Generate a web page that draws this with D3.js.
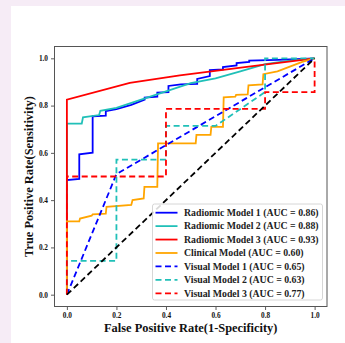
<!DOCTYPE html>
<html>
<head>
<meta charset="utf-8">
<script src="https://cdn.jsdelivr.net/npm/d3@7"></script>
<style>
  body { margin: 0; background: #f6ecf6; }
  svg text { font-family: "Liberation Serif", "Times New Roman", serif; font-weight: bold; }
</style>
</head>
<body>
<div id="chart"></div>
<script>
// ROC points, [fpr, tpr]
const radiomic1 = [[0,0],[0,0.485],[0.05,0.49],[0.05,0.594],[0.104,0.601],[0.104,0.755],[0.157,0.757],[0.157,0.777],
  [0.2,0.785],[0.26,0.803],[0.314,0.825],[0.314,0.834],[0.365,0.838],[0.365,0.855],[0.41,0.857],[0.41,0.883],
  [0.46,0.89],[0.526,0.892],[0.526,0.913],[0.577,0.925],[0.577,0.95],[0.63,0.953],[0.63,0.963],[0.685,0.97],
  [0.685,0.98],[0.736,0.985],[0.736,0.99],[0.85,0.993],[1,1]];
const radiomic2 = [[0,0],[0,0.724],[0.06,0.724],[0.065,0.75],[0.13,0.76],[0.135,0.778],[0.2,0.79],[0.3,0.825],
  [0.4,0.86],[0.5,0.895],[0.6,0.915],[0.7,0.945],[0.8,0.975],[0.9,0.99],[1,1]];
const radiomic3 = [[0,0],[0,0.825],[0.254,0.896],[0.456,0.928],[0.75,0.967],[1,1]];
const clinical = [[0,0],[0,0.31],[0.05,0.31],[0.053,0.322],[0.1,0.334],[0.104,0.34],[0.157,0.343],[0.16,0.372],
  [0.26,0.38],[0.265,0.4],[0.31,0.407],[0.313,0.456],[0.365,0.456],[0.368,0.64],[0.52,0.64],[0.523,0.676],
  [0.58,0.676],[0.583,0.71],[0.63,0.71],[0.633,0.835],[0.68,0.838],[0.683,0.845],[0.73,0.847],[0.733,0.886],
  [0.79,0.89],[0.793,0.933],[0.85,0.945],[0.9,0.965],[0.95,0.985],[1,1]];
const visual1 = [[0,0],[0.2,0.51],[1,1]];
const visual2 = [[0,0],[0,0.143],[0.2,0.143],[0.2,0.571],[0.4,0.571],[0.4,0.714],[0.6,0.714],[0.8,0.857],[0.8,1],[1,1]];
const visual3 = [[0,0],[0,0.5],[0.4,0.5],[0.4,0.786],[0.8,0.786],[0.8,0.857],[1,0.857],[1,1]];
const chance = [[0,0],[1,1]];

const labels = ["Radiomic Model 1 (AUC = 0.86)", "Radiomic Model 2 (AUC = 0.88)", "Radiomic Model 3 (AUC = 0.93)",
  "Clinical Model (AUC = 0.60)", "Visual Model 1 (AUC = 0.65)", "Visual Model 2 (AUC = 0.63)", "Visual Model 3 (AUC = 0.77)"];
const tickValues = [0, 0.2, 0.4, 0.6, 0.8, 1.0];

const series = [
  { pts: radiomic1, color: "#0000ff", dash: null },
  { pts: radiomic2, color: "#20c0b8", dash: null },
  { pts: radiomic3, color: "#ff0000", dash: null },
  { pts: clinical, color: "#ffa500", dash: null },
  { pts: visual1, color: "#0000ff", dash: "6,3.5" },
  { pts: visual2, color: "#20c0b8", dash: "6,3.5" },
  { pts: visual3, color: "#ff0000", dash: "6,3.5" }
];

const W = 345, H = 343;
const margin = { top: 46.5, right: 18, bottom: 36.5, left: 54.5 };
const width = W - margin.left - margin.right;
const height = H - margin.top - margin.bottom;

const svg = d3.select("#chart").append("svg")
  .attr("width", W)
  .attr("height", H);

svg.append("rect")
  .attr("x", 11).attr("y", 6)
  .attr("width", W - 11).attr("height", H - 6)
  .attr("fill", "#fff");

const g = svg.append("g")
  .attr("transform", "translate(" + margin.left + "," + margin.top + ")");

const x = d3.scaleLinear().domain([-0.05, 1.05]).range([0, width]);
const y = d3.scaleLinear().domain([-0.05, 1.05]).range([height, 0]);

const fmt = d3.format(".1f");

const xAxis = g.append("g")
  .attr("transform", "translate(0," + height + ")")
  .call(d3.axisBottom(x).tickValues(tickValues).tickFormat(fmt).tickSize(3.5).tickPadding(3));
const yAxis = g.append("g")
  .call(d3.axisLeft(y).tickValues(tickValues).tickFormat(fmt).tickSize(3.5).tickPadding(3));

[xAxis, yAxis].forEach(a => {
  a.select(".domain").remove();
  a.selectAll("line").attr("stroke", "#333").attr("stroke-width", 0.8);
  a.selectAll("text").style("font-size", "7.3px").attr("fill", "#111");
});

const line = d3.line().x(d => x(d[0])).y(d => y(d[1]));

// plot order as in the source: radiomic, clinical, visual, then chance line
series.forEach(s => {
  g.append("path")
    .datum(s.pts)
    .attr("d", line)
    .attr("fill", "none")
    .attr("stroke", s.color)
    .attr("stroke-width", 1.8)
    .attr("stroke-dasharray", s.dash);
});

g.append("path")
  .datum(chance)
  .attr("d", line)
  .attr("fill", "none")
  .attr("stroke", "#000")
  .attr("stroke-width", 1.8)
  .attr("stroke-dasharray", "6,3.5");

g.append("rect")
  .attr("width", width).attr("height", height)
  .attr("fill", "none")
  .attr("stroke", "#555")
  .attr("stroke-width", 1);

// legend
const lg = svg.append("g").attr("transform", "translate(152.5,204)");
lg.append("rect")
  .attr("width", 170).attr("height", 96)
  .attr("rx", 2)
  .attr("fill", "#fff")
  .attr("fill-opacity", 0.85)
  .attr("stroke", "#ccc")
  .attr("stroke-width", 0.8);

const items = lg.selectAll("g.item")
  .data(series)
  .enter().append("g")
  .attr("transform", (d, i) => "translate(0," + (8.7 + i * 13.43) + ")");
items.append("line")
  .attr("x1", 3).attr("x2", 25)
  .attr("stroke", d => d.color)
  .attr("stroke-width", 1.8)
  .attr("stroke-dasharray", d => d.dash);
items.append("text")
  .attr("x", 31.5).attr("dy", "0.33em")
  .style("font-size", "9.8px")
  .attr("fill", "#222")
  .text((d, i) => labels[i]);

svg.append("text")
  .attr("x", margin.left + x(0.5)).attr("y", 332)
  .attr("text-anchor", "middle")
  .style("font-size", "12.4px")
  .attr("fill", "#111")
  .text("False Positive Rate(1-Specificity)");

svg.append("text")
  .attr("transform", "translate(33," + (margin.top + y(0.5)) + ") rotate(-90)")
  .attr("text-anchor", "middle")
  .style("font-size", "12.4px")
  .attr("fill", "#111")
  .text("True Positive Rate(Sensitivity)");
</script>
</body>
</html>
